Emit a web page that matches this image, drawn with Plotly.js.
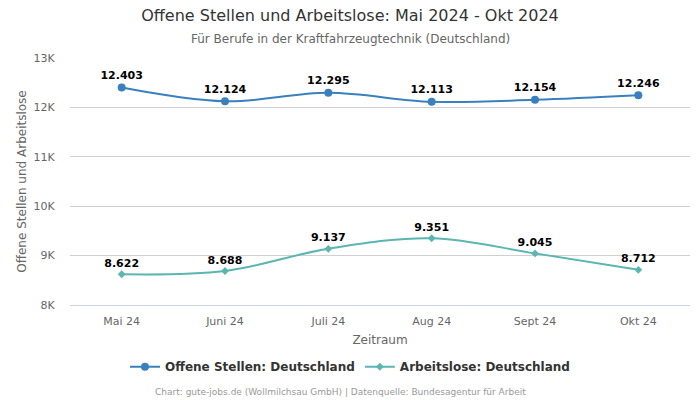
<!DOCTYPE html>
<html><head><meta charset="utf-8">
<script src="https://cdn.plot.ly/plotly-3.0.1.min.js"></script>
<style>body{margin:0;background:#fff}#chart{width:700px;height:400px}</style>
</head><body><div id="chart"></div>
<script>
const categories = ["Mai 24","Juni 24","Juli 24","Aug 24","Sept 24","Okt 24"];
const offeneStellen = [12403,12124,12295,12113,12154,12246];
const arbeitslose = [8622,8688,9137,9351,9045,8712];
const seriesNames = ["Offene Stellen: Deutschland","Arbeitslose: Deutschland"];
const yTickVals = [8000,9000,10000,11000,12000,13000];
const yTickText = ["8K","9K","10K","11K","12K","13K"];

const fmt = v => v.toLocaleString('de-DE');
const F = "DejaVu Sans, sans-serif";

const traces = [
  {x: categories, y: offeneStellen, name: seriesNames[0], type:'scatter', mode:'lines+markers+text',
   line:{color:'#3a80bf', width:2, shape:'spline', smoothing:1},
   marker:{color:'#3a80bf', size:8, symbol:'circle'},
   text: offeneStellen.map(fmt), textposition:'top center',
   textfont:{family:F, size:11, color:'#000', weight:'bold'}, cliponaxis:false},
  {x: categories, y: arbeitslose, name: seriesNames[1], type:'scatter', mode:'lines+markers+text',
   line:{color:'#5bb5b0', width:2, shape:'spline', smoothing:1},
   marker:{color:'#5bb5b0', size:6, symbol:'diamond'},
   text: arbeitslose.map(fmt), textposition:'top center',
   textfont:{family:F, size:11, color:'#000', weight:'bold'}, cliponaxis:false}
];

const cx = (350-70)/620;
const layout = {
  width:700, height:400,
  margin:{l:70, r:10, t:58, b:95},
  paper_bgcolor:'#fff', plot_bgcolor:'#fff',
  font:{family:F, color:'#666', size:11},
  title:{text:'Offene Stellen und Arbeitslose: Mai 2024 - Okt 2024', x:0.5, xanchor:'center', y:0.975, yanchor:'top',
         font:{family:F, size:16, color:'#333'}},
  annotations:[
    {text:'Für Berufe in der Kraftfahrzeugtechnik (Deutschland)', xref:'paper', yref:'paper', x:cx, xanchor:'center',
     y:1, yshift:19, yanchor:'middle', showarrow:false, font:{family:F, size:12, color:'#666'}},
    {text:'Chart: gute-jobs.de (Wollmilchsau GmbH) | Datenquelle: Bundesagentur für Arbeit', xref:'paper', yref:'paper',
     x:(340-70)/620, xanchor:'center', y:0, yshift:-87, yanchor:'middle', showarrow:false, font:{family:F, size:9, color:'#999'}}
  ],
  xaxis:{type:'category', range:[-0.5,5.5], showgrid:false, zeroline:false, showline:true, linecolor:'#ccd6eb', linewidth:1,
         ticks:'outside', ticklen:6, tickcolor:'rgba(0,0,0,0)', tickfont:{family:F, size:11, color:'#666'},
         title:{text:'Zeitraum', font:{family:F, size:12, color:'#666'}, standoff:8}},
  yaxis:{range:[8000,13000], tickvals:yTickVals, ticktext:yTickText, showgrid:true, gridcolor:'#d0d0d0', gridwidth:1,
         zeroline:false, showline:false, ticks:'outside', ticklen:12, tickcolor:'rgba(0,0,0,0)',
         tickfont:{family:F, size:11, color:'#666'},
         title:{text:'Offene Stellen und Arbeitslose', font:{family:F, size:12, color:'#666'}, standoff:4}},
  legend:{orientation:'h', x:cx, xanchor:'center', y:-0.25, yanchor:'middle',
          font:{family:F, size:12, color:'#333', weight:'bold'}, itemwidth:30},
  showlegend:true
};

Plotly.newPlot('chart', traces, layout, {displayModeBar:false, staticPlot:true});
</script></body></html>
